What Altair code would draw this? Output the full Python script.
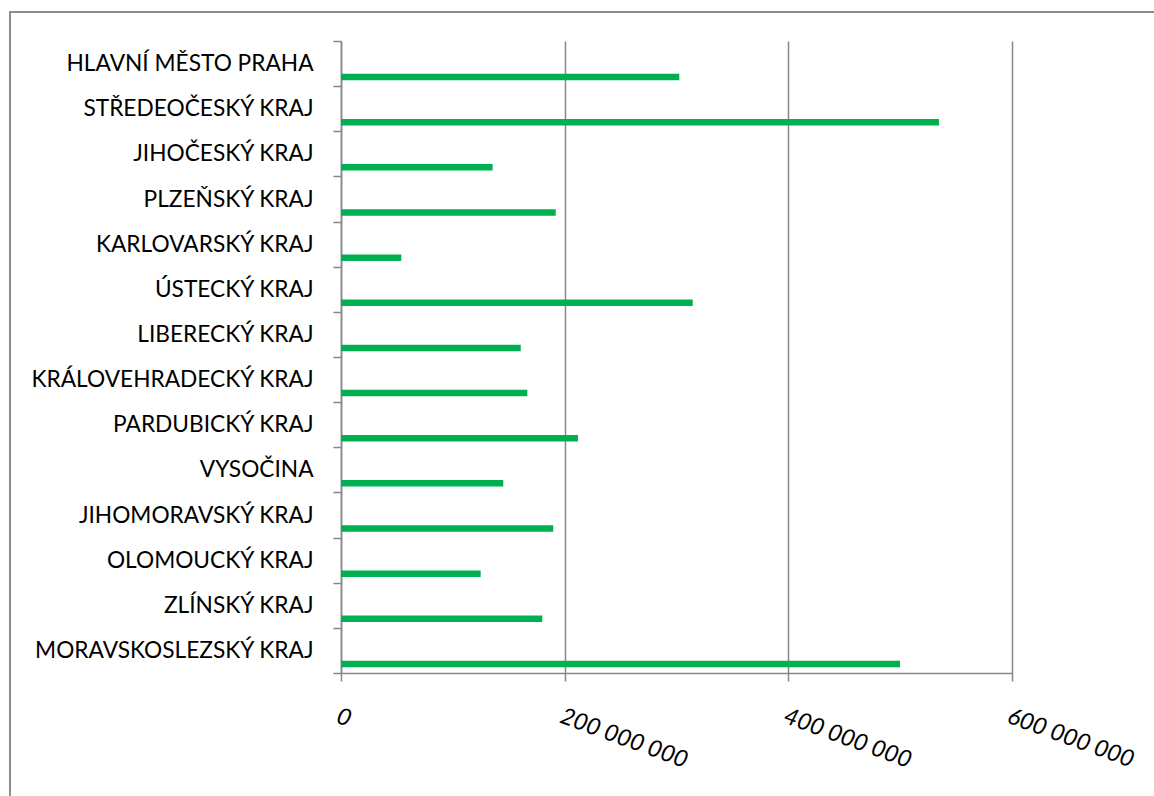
import altair as alt
import pandas as pd

regions = [
    "HLAVNÍ MĚSTO PRAHA\u2002",
    "STŘEDEOČESKÝ KRAJ",
    "JIHOČESKÝ KRAJ",
    "PLZEŇSKÝ KRAJ",
    "KARLOVARSKÝ KRAJ",
    "ÚSTECKÝ KRAJ\u2002",
    "LIBERECKÝ KRAJ",
    "KRÁLOVEHRADECKÝ KRAJ",
    "PARDUBICKÝ KRAJ",
    "VYSOČINA",
    "JIHOMORAVSKÝ KRAJ",
    "OLOMOUCKÝ KRAJ",
    "ZLÍNSKÝ KRAJ",
    "MORAVSKOSLEZSKÝ KRAJ",
]
values = [
    302.5e6, 534.7e6, 135.6e6, 192.0e6, 53.9e6, 314.5e6, 160.7e6,
    166.6e6, 211.9e6, 145.1e6, 189.8e6, 124.9e6, 180.0e6, 499.9e6,
]
x_ticks = [0, 200e6, 400e6, 600e6]

df = pd.DataFrame({"region": regions, "value": values})

W, H = 671, 632
GRAY = "#878787"
FONT = "Lato"

bars = alt.Chart(df).mark_bar(size=6.5, yOffset=13.5, color="#00B050").encode(
    x=alt.X(
        "value:Q",
        scale=alt.Scale(domain=[0, 600e6], nice=False, zero=True),
        axis=alt.Axis(
            values=x_ticks,
            labelExpr="replace(format(datum.value, ',.0f'), /,/g, ' ')",
            title=None,
            grid=True,
            gridColor=GRAY,
            gridWidth=1.5,
            domainColor=GRAY,
            domainWidth=1.5,
            tickColor=GRAY,
            tickWidth=1.5,
            tickSize=8,
            labelAngle=20,
            labelAlign="left",
            labelBaseline="top",
            labelPadding=23,
            labelFont=FONT,
            labelFontStyle="italic",
            labelFontSize=23.5,
            labelColor="#000000",
            labelOverlap=False,
            labelFlush=False,
        ),
    ),
    y=alt.Y(
        "region:N",
        sort=None,
        scale=alt.Scale(paddingInner=0, paddingOuter=0),
        axis=alt.Axis(
            title=None,
            grid=False,
            tickBand="extent",
            tickColor=GRAY,
            tickWidth=1.5,
            tickSize=8,
            domainColor=GRAY,
            domainWidth=1.5,
            labelPadding=20,
            labelFont=FONT,
            labelFontSize=22.7,
            labelColor="#000000",
            labelLimit=400,
        ),
    ),
)

frame = alt.Chart(pd.DataFrame({"a": [0]})).mark_rect(
    fill=None, stroke="#8c8c8c", strokeWidth=2
).encode(
    x=alt.value(-331),
    y=alt.value(-29),
    x2=alt.value(W + 300),
    y2=alt.value(H + 300),
)

chart = alt.layer(frame, bars).properties(
    width=W,
    height=H,
    autosize=alt.AutoSizeParams(type="none"),
    padding={"left": 341, "top": 41, "right": 1154 - 341 - W, "bottom": 796 - 41 - H},
    background="white",
).configure_view(stroke=None)

chart.save("out.html", embed_options={"renderer": "svg", "actions": False})
